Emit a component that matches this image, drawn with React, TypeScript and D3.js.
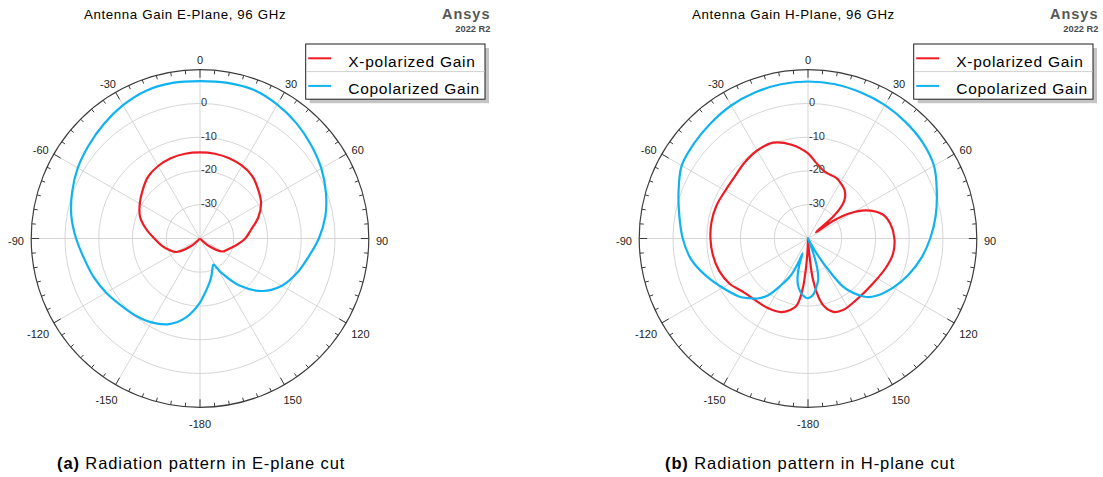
import React from 'react';
import * as d3 from 'd3';

const W = 1103;
const H = 477;

// Gain samples [angle in degrees, gain in dB]; 0° points up, angles grow clockwise.
const eXpolGain: [number, number][] = [
  [-180, -40], [-140, -40], [-130, -36.4], [-120, -32], [-110, -30.2], [-100, -28.4],
  [-90, -26.5], [-80, -23.8], [-70, -21.1], [-60, -19.4], [-50, -17.8], [-40, -16.1],
  [-30, -15.2], [-20, -14.7], [-10, -14.5], [0, -14.5], [10, -14.5], [20, -14.7],
  [30, -15.1], [40, -15.9], [50, -17.5], [60, -19.1], [70, -21.6], [80, -24.6],
  [90, -26.6], [100, -29.0], [110, -31.0], [120, -32.3], [130, -36.4], [140, -40],
];

const eCopolGain: [number, number][] = [
  [-180, -21], [-170, -16.3], [-160, -13.0], [-150, -11.3], [-140, -10.2], [-130, -9.3],
  [-120, -7.9], [-110, -6.5], [-100, -5.2], [-90, -3.3], [-80, -1.3], [-70, 0.3],
  [-60, 1.8], [-50, 3.0], [-40, 4.3], [-30, 5.6], [-20, 6.6], [-10, 6.8], [0, 6.6],
  [10, 6.8], [20, 6.8], [30, 5.8], [40, 4.5], [50, 3.0], [60, 1.5], [70, -0.3],
  [80, -2.3], [90, -4.8], [100, -7.5], [110, -9.6], [120, -12.0], [130, -15.8],
  [140, -21.8], [148, -28], [153, -31.3], [158, -30.2], [162, -28.8], [166, -27.3],
  [172, -25], [177, -22.7],
];

const hXpolGain: [number, number][] = [
  [-180, -40], [-178, -37], [-176, -31], [-174, -25], [-172, -21.5], [-170, -19.6],
  [-166, -18.2], [-160, -16.8], [-150, -16.2], [-140, -16], [-130, -15.2], [-120, -13.2],
  [-110, -12], [-100, -11.4], [-90, -11.1], [-80, -11], [-70, -11.2], [-60, -11.7],
  [-50, -11.6], [-40, -10.7], [-30, -9.9], [-20, -9.8], [-10, -11.8], [0, -14.8],
  [6, -17.4], [14, -19.6], [25, -20.2], [31, -21], [37, -22], [42, -23.6], [45, -25.3],
  [49, -30], [52, -37], [55, -31], [59, -25.5], [64, -21], [72, -16.8], [80, -15.2],
  [90, -14.4], [100, -14.4], [110, -15.3], [125, -16.6], [140, -16.9], [154, -16.4],
  [161, -17], [166, -19], [169, -21.4], [173, -27.6], [175, -34.6], [177, -40],
];

const hCopolGain: [number, number][] = [
  [-180, -22.3], [-176, -22.8], [-172, -24], [-168, -25.8], [-165, -28], [-162, -31.5],
  [-160, -35.3], [-158, -32], [-155, -28], [-150, -24], [-145, -19.5], [-140, -16.8],
  [-135, -15], [-130, -13.3], [-120, -10.8], [-110, -7.8], [-100, -4.8], [-90, -2.9],
  [-80, -1.3], [-70, 0.8], [-60, 3.2], [-50, 4.0], [-40, 4.7], [-30, 5.5], [-20, 6.0],
  [-10, 6.4], [0, 6.5], [10, 6.4], [20, 6.0], [30, 5.6], [40, 5.0], [50, 4.3], [60, 3.1],
  [70, 0.6], [80, -1.6], [90, -3.8], [100, -6.0], [110, -8.4], [120, -10.9], [130, -13.6],
  [135, -15.5], [140, -18.8], [144, -22.5], [147, -29], [150, -35], [153, -40], [157, -40],
  [160, -35.5], [163, -30.5], [166, -27.5], [170, -25.5], [175, -23.2],
];

const seriesNames = ['X-polarized Gain', 'Copolarized Gain'];
const seriesColors = ['#ed1c24', '#10b2f0'];
const ringLevels = [-30, -20, -10, 0];
const gainDomain = [-40, 10];
const angleLabels = [0, 30, 60, 90, 120, 150, -180, -150, -120, -90, -60, -30];
const panelTitles = ['Antenna Gain E-Plane, 96 GHz', 'Antenna Gain H-Plane, 96 GHz'];
const captionTags = ['(a)', '(b)'];
const captionTexts = ['Radiation pattern in E-plane cut', 'Radiation pattern in H-plane cut'];

const FONT = '"Liberation Sans", Arial, sans-serif';

type Props = {
  cx: number;
  cy: number;
  title: string;
  tag: string;
  caption: string;
  xpol: [number, number][];
  copol: [number, number][];
};

function PolarPanel({ cx, cy, title, tag, caption, xpol, copol }: Props) {
  const r = d3.scaleLinear().domain(gainDomain).range([0, 168.8]).clamp(true);
  const R = r(gainDomain[1]);
  const rad = (deg: number) => (deg * Math.PI) / 180;
  const line = d3
    .lineRadial<[number, number]>()
    .angle((d) => rad(d[0]))
    .radius((d) => r(d[1]))
    .curve(d3.curveCatmullRomClosed.alpha(0.5));

  const spokes = d3.range(0, 360, 30);
  const ticks = d3.range(0, 360, 5);

  const legendX = cx + 105.7;
  const legendY = 44;
  const legendW = 179.3;
  const rowH = 27.6;

  return (
    <g>
      <text x={cx - 116} y={18.5} fontFamily={FONT} fontSize={13.3} letterSpacing={0.62} fill="#000">
        {title}
      </text>
      <text x={cx + 290.5} y={18.8} textAnchor="end" fontFamily={FONT} fontWeight="bold" fontSize={14.5} letterSpacing={1.0} fill="#575757">
        Ansys
      </text>
      <text x={cx + 290.5} y={32.3} textAnchor="end" fontFamily={FONT} fontWeight="bold" fontSize={9.3} fill="#4a4a4a">
        2022 R2
      </text>

      {/* grid */}
      <g transform={`translate(${cx},${cy})`}>
        {ringLevels.map((lv) => (
          <circle key={lv} r={r(lv)} fill="none" stroke="#d6d6d6" strokeWidth={1} />
        ))}
        {spokes.map((a) => (
          <line
            key={a}
            x1={0}
            y1={0}
            x2={R * Math.sin(rad(a))}
            y2={-R * Math.cos(rad(a))}
            stroke="#d6d6d6"
            strokeWidth={1}
          />
        ))}
        <circle r={R} fill="none" stroke="#3c3c3c" strokeWidth={1.2} />
        {ticks.map((a) => {
          const len = a % 30 === 0 ? 8 : 4;
          const s = Math.sin(rad(a));
          const c = Math.cos(rad(a));
          return (
            <line
              key={a}
              x1={R * s}
              y1={-R * c}
              x2={(R - len) * s}
              y2={-(R - len) * c}
              stroke="#3c3c3c"
              strokeWidth={1}
            />
          );
        })}
        {ringLevels.map((lv) => (
          <text key={lv} x={1} y={-r(lv) + 2.5} fontFamily={FONT} fontSize={11} fill="#333">
            {lv}
          </text>
        ))}
        {angleLabels.map((a) => {
          const s = Math.sin(rad(a));
          const c = Math.cos(rad(a));
          const label = String(a);
          const w = label.replace('-', '').length * 6.12 + (a < 0 ? 3.67 : 0);
          const lx = s * (176 + w / 2);
          const ly = -c * (176 + 4.2) + 2 + (c < -0.1 ? 3.5 : 0);
          return (
            <text key={a} x={lx} y={ly + 4} textAnchor="middle" fontFamily={FONT} fontSize={11} fill="#222">
              {label}
            </text>
          );
        })}

        {/* traces */}
        <path d={line(xpol) ?? ''} fill="none" stroke={seriesColors[0]} strokeWidth={2.2} strokeLinejoin="round" />
        <path d={line(copol) ?? ''} fill="none" stroke={seriesColors[1]} strokeWidth={2.2} strokeLinejoin="round" />
      </g>

      {/* legend */}
      <rect x={legendX + 4} y={legendY + 4} width={legendW} height={rowH * 2} fill="#c4c4c4" />
      <rect x={legendX} y={legendY} width={legendW} height={rowH * 2} fill="#fff" stroke="#1e1e1e" strokeWidth={1} />
      <line x1={legendX + 0.5} x2={legendX + legendW - 0.5} y1={legendY + rowH} y2={legendY + rowH} stroke="#d0d0d0" strokeWidth={1} />
      {seriesNames.map((name, i) => (
        <g key={name}>
          <line
            x1={legendX + 2.5}
            x2={legendX + 25.5}
            y1={legendY + rowH * i + 14.3}
            y2={legendY + rowH * i + 14.3}
            stroke={seriesColors[i]}
            strokeWidth={2}
          />
          <text x={legendX + 42.5} y={legendY + rowH * i + 22.5} fontFamily={FONT} fontSize={15.5} letterSpacing={0.75} fill="#000">
            {name}
          </text>
        </g>
      ))}

      {/* caption */}
      <text x={cx - 143} y={468.5} fontFamily={FONT} fontSize={16.5} letterSpacing={0.9} fill="#000">
        <tspan fontWeight="bold">{tag}</tspan>
        <tspan> {caption}</tspan>
      </text>
    </g>
  );
}

export default function App() {
  const cy = 238.5;
  return (
    <svg
      width={W}
      height={H}
      viewBox={`0 0 ${W} ${H}`}
      style={{ position: 'absolute', left: 0, top: 0, display: 'block', background: '#fff' }}
    >
      <rect width={W} height={H} fill="#fff" />
      <PolarPanel cx={200} cy={cy} title={panelTitles[0]} tag={captionTags[0]} caption={captionTexts[0]} xpol={eXpolGain} copol={eCopolGain} />
      <PolarPanel cx={808} cy={cy} title={panelTitles[1]} tag={captionTags[1]} caption={captionTexts[1]} xpol={hXpolGain} copol={hCopolGain} />
    </svg>
  );
}
